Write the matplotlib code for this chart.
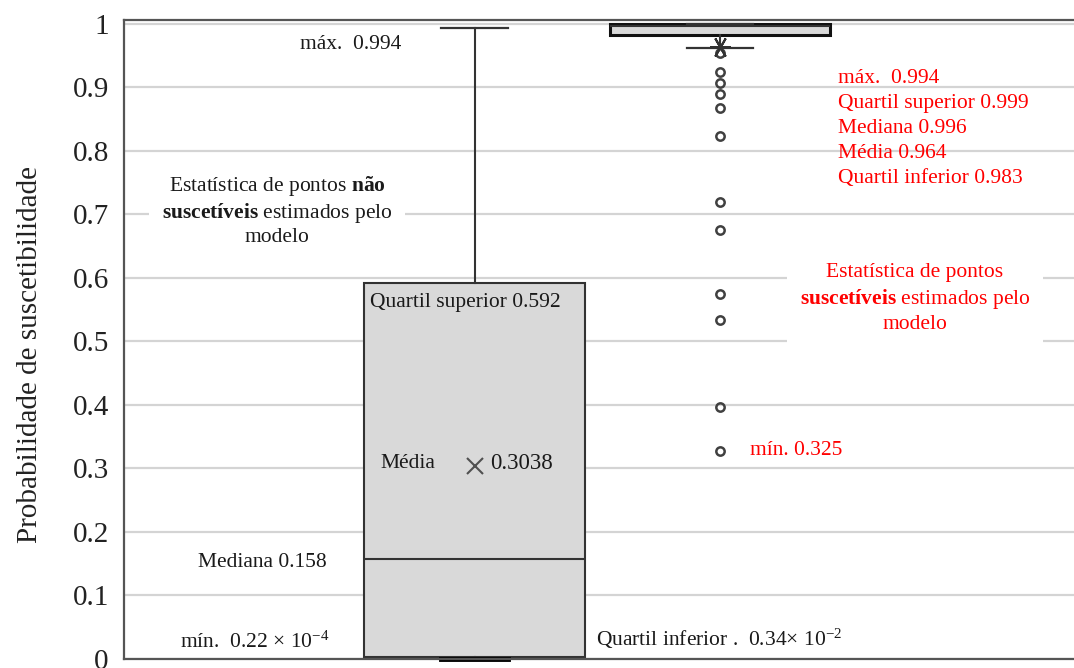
import matplotlib
matplotlib.use('Agg')
import matplotlib.pyplot as plt

plt.rcParams['font.family'] = ['Liberation Serif', 'DejaVu Serif']
plt.rcParams['mathtext.fontset'] = 'custom'
plt.rcParams['mathtext.rm'] = 'Liberation Serif'
plt.rcParams['mathtext.it'] = 'Liberation Serif:italic'
plt.rcParams['mathtext.bf'] = 'Liberation Serif:bold'

# estatisticas dos dois grupos (nao suscetiveis, suscetiveis)
groups = ['não suscetíveis', 'suscetíveis']
q1 = [0.0034, 0.983]
medians = [0.158, 0.996]
q3 = [0.592, 0.999]
whis_lo = [0.000022, 0.962]
whis_hi = [0.994, 0.999]
means = [0.3038, 0.964]
outliers_susc = [0.954, 0.924, 0.906, 0.890, 0.867, 0.823, 0.719, 0.675,
                 0.574, 0.533, 0.397, 0.328]
outliers = [[], outliers_susc]
yticks = [0, 0.1, 0.2, 0.3, 0.4, 0.5, 0.6, 0.7, 0.8, 0.9, 1]
yticklabels = ['0', '0.1', '0.2', '0.3', '0.4', '0.5', '0.6', '0.7', '0.8', '0.9', '1']

stats = []
for i in range(len(groups)):
    stats.append(dict(label=groups[i], q1=q1[i], med=medians[i], q3=q3[i],
                      whislo=whis_lo[i], whishi=whis_hi[i], mean=means[i],
                      fliers=outliers[i]))

fig = plt.figure(figsize=(10.74, 6.68), dpi=100)
ax = fig.add_axes([0.1155, 0.0135, 0.8845, 0.9566])

edge = '#333333'
res = ax.bxp(stats, positions=[1, 2], widths=0.9, patch_artist=True,
             showmeans=True, manage_ticks=False, capwidths=0.27,
             boxprops=dict(facecolor='#d9d9d9', edgecolor=edge, linewidth=1.5),
             medianprops=dict(color=edge, linewidth=1.5),
             whiskerprops=dict(color=edge, linewidth=1.5),
             capprops=dict(color=edge, linewidth=1.6),
             flierprops=dict(marker='o', markerfacecolor='none',
                             markeredgecolor='#404040', markersize=6,
                             markeredgewidth=1.8),
             meanprops=dict(marker='x', markeredgecolor='#505050',
                            markersize=12, markeredgewidth=1.5))

# media do grupo suscetivel como asterisco
res['means'][1].set_marker((6, 2, 90))
res['means'][1].set_markersize(15)
res['means'][1].set_markeredgecolor('#333333')
res['means'][1].set_markeredgewidth(1.5)
res['boxes'][1].set_linewidth(2.2)
res['boxes'][1].set_edgecolor('#111111')
res['caps'][0].set_color('black')
res['caps'][0].set_linewidth(3.5)
res['caps'][0].set_clip_on(False)

ax.set_xlim(-0.4277, 3.442)
ax.set_ylim(0, 1.006)
ax.set_xticks([])
ax.set_yticks(yticks)
ax.set_yticklabels(yticklabels, fontsize=21, color='#222222')
ax.tick_params(axis='y', length=0, pad=11)
ax.yaxis.grid(True, color='#d4d4d4', linewidth=1.6)
ax.set_axisbelow(True)
for s in ['left', 'bottom', 'top']:
    ax.spines[s].set_color('#555555')
    ax.spines[s].set_linewidth(1.6)
ax.spines['right'].set_visible(False)

fig.text(0.028, 0.4686, 'Probabilidade de suscetibilidade', rotation=90,
         ha='center', va='center', fontsize=21, color='#222222')

fs = 15.5
blk = '#1a1a1a'
red = '#ff0000'
ax.text(0.289, 0.968, 'máx.  0.994', fontsize=fs, color=blk, va='center')
ax.text(0.1955, 0.706,
        'Estatística de pontos $\\mathbf{não}$\n'
        '$\\mathbf{suscetíveis}$ estimados pelo\nmodelo',
        fontsize=fs, color=blk, ha='center', va='center', multialignment='center',
        bbox=dict(boxstyle='square,pad=0.6', facecolor='white', edgecolor='none'))
ax.text(0.574, 0.561, 'Quartil superior 0.592', fontsize=fs, color=blk, va='center')
ax.text(0.615, 0.308, 'Média', fontsize=fs, color=blk, va='center')
ax.text(1.063, 0.308, '0.3038', fontsize=16.5, color=blk, va='center')
ax.text(-0.126, 0.152, 'Mediana 0.158', fontsize=fs, color=blk, va='center')
ax.text(-0.200, 0.018, 'mín.  0.22 × 10$^{-4}$', fontsize=fs, color=blk,
        va='baseline')
ax.text(1.495, 0.021, 'Quartil inferior .  0.34× 10$^{-2}$', fontsize=fs,
        color=blk, va='baseline')

ax.text(2.481, 0.835,
        'máx.  0.994\nQuartil superior 0.999\nMediana 0.996\nMédia 0.964\n'
        'Quartil inferior 0.983',
        fontsize=fs, color=red, va='center', linespacing=1.43)
ax.text(2.794, 0.567,
        'Estatística de pontos\n$\\mathbf{suscetíveis}$ estimados pelo\nmodelo',
        fontsize=fs, color=red, ha='center', va='center', multialignment='center',
        linespacing=1.3,
        bbox=dict(boxstyle='square,pad=0.6', facecolor='white', edgecolor='none'))
ax.text(2.122, 0.328, 'mín. 0.325', fontsize=fs, color=red, va='center')

fig.savefig('out.png', dpi=100)
